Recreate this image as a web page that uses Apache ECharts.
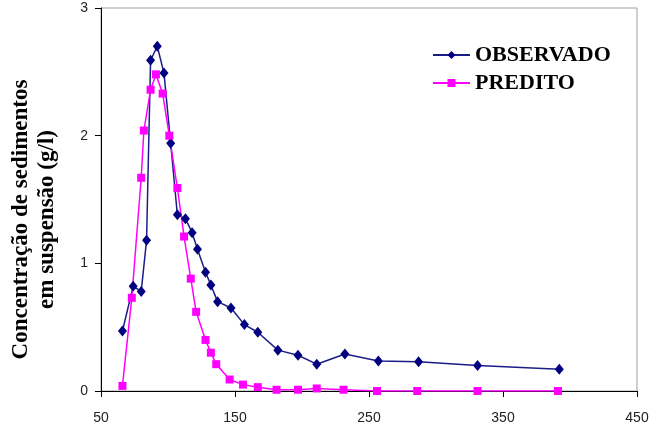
<!DOCTYPE html>
<html>
<head>
<meta charset="utf-8">
<script src="https://cdn.jsdelivr.net/npm/echarts@6/dist/echarts.min.js"></script>
<style>
  html, body { margin: 0; padding: 0; background: #fff; }
  #chart { width: 650px; height: 429px; }
</style>
</head>
<body>
<div id="chart"></div>
<script>
// Observed suspended-sediment concentration (g/l) over time
const obsX = [66, 74, 80, 84, 87, 92, 97, 102, 107, 113, 118, 122, 128, 132, 137, 147, 157, 167, 182, 197, 211, 232, 257, 287, 331, 392];
const obsY = [0.47, 0.82, 0.78, 1.18, 2.59, 2.70, 2.49, 1.94, 1.38, 1.35, 1.24, 1.11, 0.93, 0.83, 0.70, 0.65, 0.52, 0.46, 0.32, 0.28, 0.21, 0.29, 0.235, 0.23, 0.20, 0.17];

// Model-predicted concentration (g/l)
const predX = [66, 73, 80, 82, 87, 91, 96, 101, 107, 112, 117, 121, 128, 132, 136, 146, 156, 167, 181, 197, 211, 231, 256, 286, 331, 391];
const predY = [0.04, 0.73, 1.67, 2.04, 2.36, 2.48, 2.33, 2.00, 1.59, 1.21, 0.88, 0.62, 0.40, 0.30, 0.21, 0.09, 0.05, 0.03, 0.01, 0.01, 0.02, 0.01, 0.00, 0.00, 0.00, 0.00];

const seriesNames = ['OBSERVADO', 'PREDITO'];
const yTitle = 'Concentração de sedimentos\nem suspensão (g/l)';

const pairs = (xs, ys) => xs.map((x, i) => [x, ys[i]]);

const chart = echarts.init(document.getElementById('chart'), null, { renderer: 'canvas' });

const tickFont = { fontFamily: 'Liberation Sans', fontSize: 14, color: '#222' };

chart.setOption({
  animation: false,
  backgroundColor: '#fff',
  grid: {
    left: 101, top: 8, right: 13, bottom: 38,
    containLabel: false, outerBoundsMode: 'none',
    show: true, borderColor: '#a0a0a0', borderWidth: 1
  },
  legend: {
    orient: 'vertical',
    left: 427, top: 39,
    itemWidth: 37, itemHeight: 10, itemGap: 6,
    textStyle: { fontFamily: 'Liberation Serif', fontWeight: 'bold', fontSize: 22, color: '#000' },
    data: seriesNames
  },
  xAxis: {
    type: 'value', min: 50, max: 450, interval: 100,
    axisLine: { lineStyle: { color: '#000', width: 1 } },
    axisTick: { show: true, inside: false, length: 6, lineStyle: { color: '#000' } },
    axisLabel: Object.assign({ margin: 20 }, tickFont),
    splitLine: { show: false }
  },
  yAxis: {
    type: 'value', min: 0, max: 3, interval: 1,
    name: yTitle,
    nameLocation: 'middle', nameRotate: 90, nameGap: 41,
    nameTextStyle: {
      fontFamily: 'Liberation Serif', fontWeight: 'bold', fontSize: 23,
      color: '#000', lineHeight: 26, align: 'center', padding: [0, 40, 0, 0]
    },
    axisLine: { lineStyle: { color: '#000', width: 1 } },
    axisTick: { show: true, inside: false, length: 6, lineStyle: { color: '#000' } },
    axisLabel: Object.assign({ margin: 13 }, tickFont),
    splitLine: { show: false }
  },
  series: [
    {
      name: seriesNames[0], type: 'line',
      data: pairs(obsX, obsY),
      symbol: 'diamond', symbolSize: [9, 11],
      lineStyle: { color: '#1c1c88', width: 1.5 },
      itemStyle: { color: '#000080' }
    },
    {
      name: seriesNames[1], type: 'line',
      data: pairs(predX, predY),
      symbol: 'rect', symbolSize: 8,
      lineStyle: { color: '#ff00ff', width: 1.5 },
      itemStyle: { color: '#ff00ff' }
    }
  ]
});
</script>
</body>
</html>
